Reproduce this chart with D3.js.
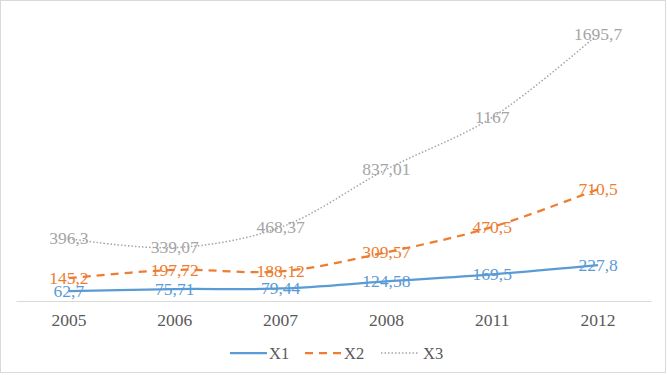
<!DOCTYPE html>
<html>
<head>
<meta charset="utf-8">
<script src="https://cdn.jsdelivr.net/npm/d3@7"></script>
<style>
  body { margin: 0; background: #fff; }
  text { font-family: "Liberation Serif", "Times New Roman", serif; }
</style>
</head>
<body>
<svg id="chart" width="667" height="375"></svg>
<script>
// values
const years = ["2005", "2006", "2007", "2008", "2011", "2012"];
const x1 = [62.7, 75.71, 79.44, 124.58, 169.5, 227.8];
const x2 = [145.2, 197.72, 188.12, 309.57, 470.5, 710.5];
const x3 = [396.3, 339.07, 468.37, 837.01, 1167, 1695.7];
const seriesNames = ["X1", "X2", "X3"];

const svg = d3.select("#chart");
const fontSize = 17.5;

const series = [
  {name: seriesNames[0], values: x1, color: "#5B9BD5", width: 2.25, dash: null},
  {name: seriesNames[1], values: x2, color: "#ED7D31", width: 2.25, dash: "8,6"},
  {name: seriesNames[2], values: x3, color: "#A5A5A5", width: 1.5, dash: "1.5,2"}
];

// outer frame
svg.append("rect")
  .attr("x", 0.5).attr("y", 0.5)
  .attr("width", 665).attr("height", 372)
  .attr("fill", "#fff")
  .attr("stroke", "#d9d9d9");

const x = d3.scaleBand().domain(years).range([16, 651]);
const y = d3.scaleLinear().domain([0, 1800]).range([301, 17.7]);
const cx = d => x(d) + x.bandwidth() / 2;

// category axis
const axis = svg.append("g")
  .attr("transform", "translate(0,301)")
  .call(d3.axisBottom(x).tickSize(0).tickSizeOuter(0).tickPadding(12.5));
axis.select(".domain").attr("stroke", "#d9d9d9").attr("stroke-width", 1);
axis.selectAll("text")
  .attr("font-family", "Liberation Serif, serif")
  .attr("font-size", fontSize)
  .attr("fill", "#595959");

const line = d3.line()
  .x((v, i) => cx(years[i]))
  .y(v => y(v))
  .curve(d3.curveCatmullRom.alpha(0.5));

svg.selectAll(".series")
  .data(series)
  .enter().append("path")
  .attr("class", "series")
  .attr("d", d => line(d.values))
  .attr("fill", "none")
  .attr("stroke", d => d.color)
  .attr("stroke-width", d => d.width)
  .attr("stroke-dasharray", d => d.dash);

// data labels, centred on the points
series.forEach(s => {
  svg.append("g").selectAll("text")
    .data(s.values)
    .enter().append("text")
    .attr("x", (v, i) => cx(years[i]))
    .attr("y", v => y(v))
    .attr("dy", "0.33em")
    .attr("text-anchor", "middle")
    .attr("font-size", fontSize)
    .attr("fill", s.color)
    .text(v => String(v).replace(".", ","));
});

// legend
const legend = svg.append("g").attr("transform", "translate(0,353)");
const legendX = [230, 305, 381];
series.forEach((s, i) => {
  const g = legend.append("g").attr("transform", `translate(${legendX[i]},0)`);
  g.append("line")
    .attr("x1", 0).attr("x2", 37)
    .attr("y1", 0).attr("y2", 0)
    .attr("stroke", s.color)
    .attr("stroke-width", s.width)
    .attr("stroke-dasharray", s.dash);
  g.append("text")
    .attr("x", i === 2 ? 42 : 39)
    .attr("y", 5.5)
    .attr("font-size", 16.5)
    .attr("fill", "#595959")
    .text(s.name);
});
</script>
</body>
</html>
